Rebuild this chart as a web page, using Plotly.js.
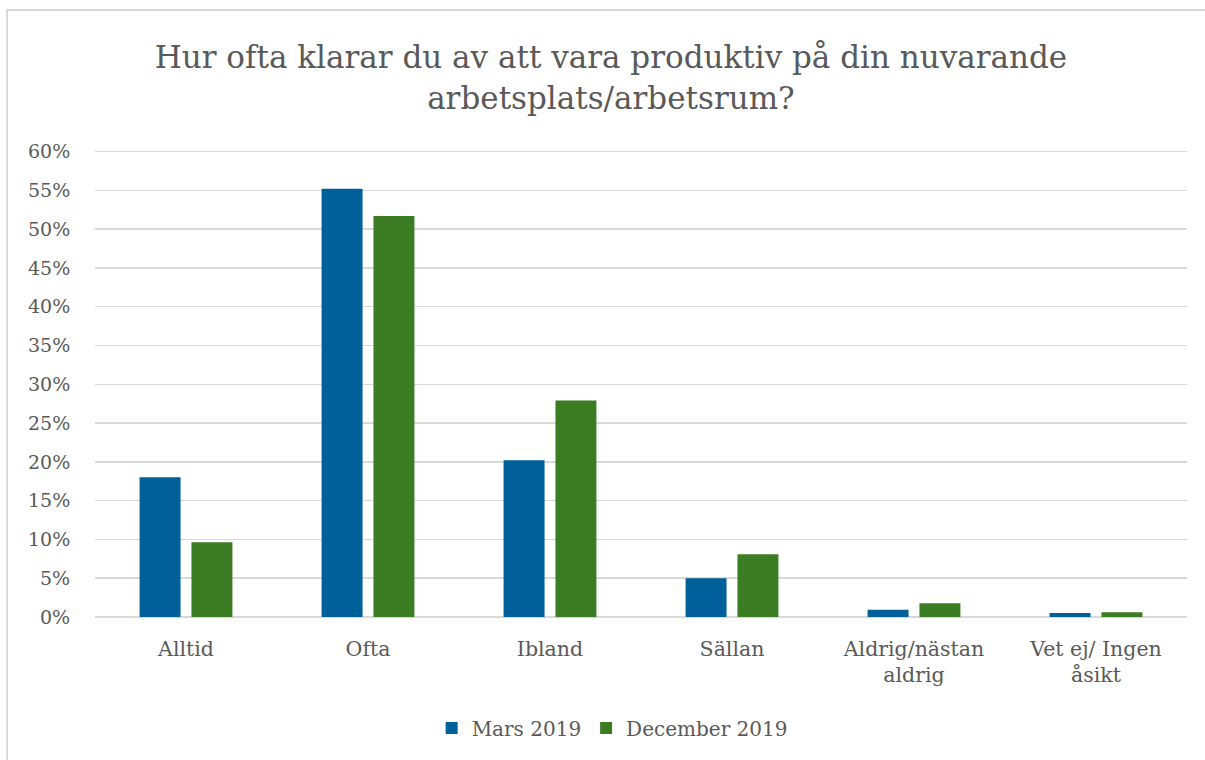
<!DOCTYPE html>
<html>
<head>
<meta charset="utf-8">
<script src="https://cdn.plot.ly/plotly-3.0.1.min.js"></script>
<style>
  body { margin: 0; background: #fff; }
  #chart { position: absolute; left: 0; top: 0; width: 1205px; height: 760px; }
  #frame { position: absolute; left: 6px; top: 9px; width: 1300px; height: 900px;
           border-top: 2px solid #d9d9d9; border-left: 2px solid #d9d9d9; pointer-events: none; }
</style>
</head>
<body>
<div id="chart"></div>
<div id="frame"></div>
<script>
// Categories and series
const categories = ['Alltid', 'Ofta', 'Ibland', 'Sällan', 'Aldrig/nästan<br>aldrig', 'Vet ej/ Ingen<br>åsikt'];
const mars2019 = [0.180, 0.552, 0.202, 0.050, 0.0095, 0.005];
const dec2019 = [0.0965, 0.517, 0.279, 0.081, 0.0176, 0.006];
const yTicks = [0, 0.05, 0.10, 0.15, 0.20, 0.25, 0.30, 0.35, 0.40, 0.45, 0.50, 0.55, 0.60];

const fontFam = 'DejaVu Serif, serif';
const grey = '#595959';

const traces = [
  {
    x: categories,
    y: mars2019,
    name: 'Mars 2019',
    type: 'bar',
    marker: { color: '#00609A' },
    hoverinfo: 'skip'
  },
  {
    x: categories,
    y: dec2019,
    name: 'December 2019',
    type: 'bar',
    marker: { color: '#3A7D22' },
    hoverinfo: 'skip'
  }
];

const layout = {
  width: 1205,
  height: 760,
  paper_bgcolor: 'rgba(0,0,0,0)',
  plot_bgcolor: '#fff',
  margin: { l: 95, r: 18, t: 150, b: 143 },
  font: { family: fontFam, color: grey, size: 19 },
  title: {
    text: 'Hur ofta klarar du av att vara produktiv på din nuvarande<br>arbetsplats/arbetsrum?',
    font: { family: fontFam, size: 31, color: grey },
    xref: 'container',
    x: 0.507,
    xanchor: 'center',
    yref: 'container',
    y: 0.91,
    yanchor: 'middle'
  },
  barmode: 'group',
  bargap: 0.43,
  bargroupgap: 0.21,
  xaxis: {
    type: 'category',
    showgrid: false,
    showline: false,
    zeroline: false,
    ticks: 'outside',
    ticklen: 13,
    tickcolor: 'rgba(0,0,0,0)',
    tickfont: { family: fontFam, size: 20.5, color: grey }
  },
  yaxis: {
    range: [0, 0.602],
    tickvals: yTicks,
    tickformat: '.0%',
    showgrid: true,
    gridcolor: '#d9d9d9',
    gridwidth: 1.5,
    zeroline: true,
    zerolinecolor: '#d9d9d9',
    zerolinewidth: 1.5,
    showline: false,
    ticks: 'outside',
    ticklen: 20,
    tickcolor: 'rgba(0,0,0,0)',
    tickfont: { family: fontFam, size: 19, color: grey }
  },
  showlegend: true,
  legend: {
    orientation: 'h',
    xref: 'container',
    x: 0.508,
    xanchor: 'center',
    yref: 'container',
    y: 0.042,
    yanchor: 'middle',
    font: { family: fontFam, size: 20, color: grey },
    itemwidth: 30,
    traceorder: 'normal'
  }
};

Plotly.newPlot('chart', traces, layout, { displayModeBar: false, staticPlot: true });
</script>
</body>
</html>
